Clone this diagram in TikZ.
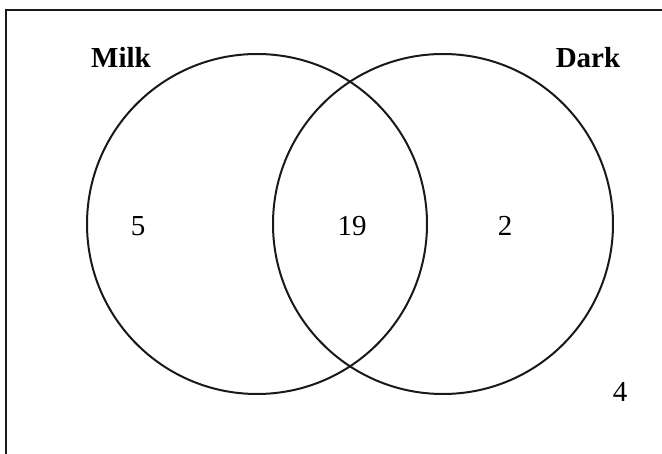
\documentclass[tikz,border=0pt]{standalone}
\usepackage{fontspec}
\setmainfont{Liberation Serif}
\begin{document}
\begin{tikzpicture}[x=1pt,y=-1pt,
  setline/.style={line width=2pt,draw=black!90},
  frameline/.style={line width=2.2pt,draw=black!90},
  setlabel/.style={font=\fontsize{29}{32}\selectfont\bfseries,anchor=base,inner sep=0pt},
  countlabel/.style={font=\fontsize{29}{32}\selectfont,anchor=base,inner sep=0pt}]
  \useasboundingbox (0,0) rectangle (662,454);
  \clip (0,0) rectangle (662,454);
  \draw[frameline] (6,470) -- (6,10) -- (680,10);
  \draw[setline] (257,224) circle[radius=170];
  \draw[setline] (443,224) circle[radius=170];
  \node[setlabel] (milk) at (121,68) {Milk};
  \node[setlabel] (dark) at (588,68) {Dark};
  \node[countlabel] (onlymilk) at (138,236) {5};
  \node[countlabel] (both) at (352,236) {19};
  \node[countlabel] (onlydark) at (505,236) {2};
  \node[countlabel] (neither) at (620,402) {4};
\end{tikzpicture}
\end{document}
